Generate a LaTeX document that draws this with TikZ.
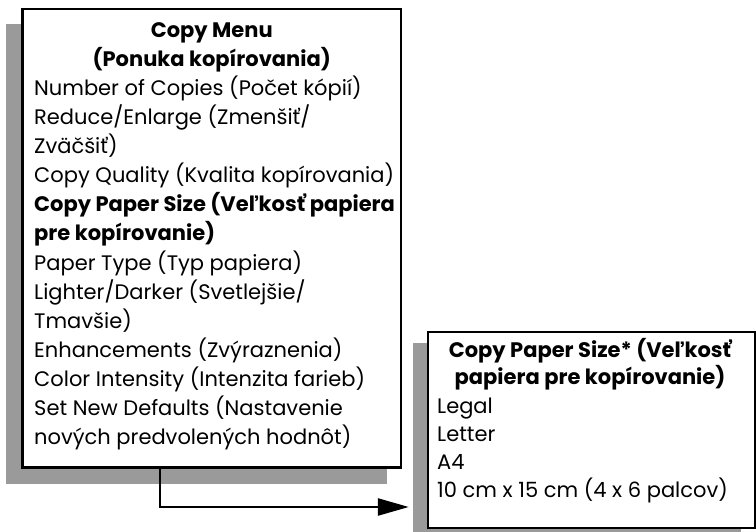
\documentclass[tikz,border=0pt]{standalone}
\usepackage{fontspec}
\setmainfont{Poppins}
\usetikzlibrary{arrows.meta}
\definecolor{shadowgray}{HTML}{9A9A9A}
\begin{document}
\begin{tikzpicture}[x=1pt,y=-1pt,
  panel/.style={draw=black, line width=2.6pt, fill=white, inner sep=0pt},
  shade/.style={fill=shadowgray, draw=none, inner sep=0pt},
  item/.style={anchor=base west, inner sep=0pt, font=\fontsize{21}{25}\selectfont},
  heading/.style={anchor=base, inner sep=0pt, font=\fontsize{21}{25}\selectfont\bfseries},
  link/.style={line width=2.5pt, -{Triangle[length=31pt,width=17pt]}}]
\clip (0,0) rectangle (756,532);

% Copy menu panel with its drop shadow
\node[shade, minimum width=381pt, minimum height=460pt] (menushade) at (196.5,254) {};
\node[panel, minimum width=378.5pt, minimum height=458.5pt] (menu) at (211.75,238.25) {};

\node[heading] (t1) at (211.75,38) {Copy Menu};
\node[heading] (t2) at (211.75,67) {(Ponuka kopírovania)};
\foreach \txt [count=\i from 3] in {
  {Number of Copies (Počet kópií)},
  {Reduce/Enlarge (Zmenšiť/},
  {Zväčšiť)},
  {Copy Quality (Kvalita kopírovania)},
  {\textbf{Copy Paper Size (Veľkosť papiera}},
  {\textbf{pre kopírovanie)}},
  {Paper Type (Typ papiera)},
  {Lighter/Darker (Svetlejšie/},
  {Tmavšie)},
  {Enhancements (Zvýraznenia)},
  {Color Intensity (Intenzita farieb)},
  {Set New Defaults (Nastavenie},
  {nových predvolených hodnôt)}}
  \node[item] (m\i) at (34,{38+29*(\i-1)}) {\txt};

% Copy paper size panel with its drop shadow
\node[shade, minimum width=328pt, minimum height=200pt] (papershade) at (576.5,443) {};
\node[panel, minimum width=327.5pt, minimum height=196pt] (paper) at (591.75,430) {};

\node[heading] (p1) at (590,357) {Copy Paper Size* (Veľkosť};
\node[heading] (p2) at (590,384) {papiera pre kopírovanie)};
\foreach \txt [count=\i from 3] in {
  {Legal},
  {Letter},
  {A4},
  {10 cm x 15 cm (4 x 6 palcov)}}
  \node[item] (p\i) at (437,{413+28*(\i-3)}) {\txt};

% connector from the menu to the submenu
\coordinate (bend) at (160,507);
\draw[link] (menu.south -| bend) |- ([xshift=-3.5pt]papershade.west |- bend);
\end{tikzpicture}
\end{document}
